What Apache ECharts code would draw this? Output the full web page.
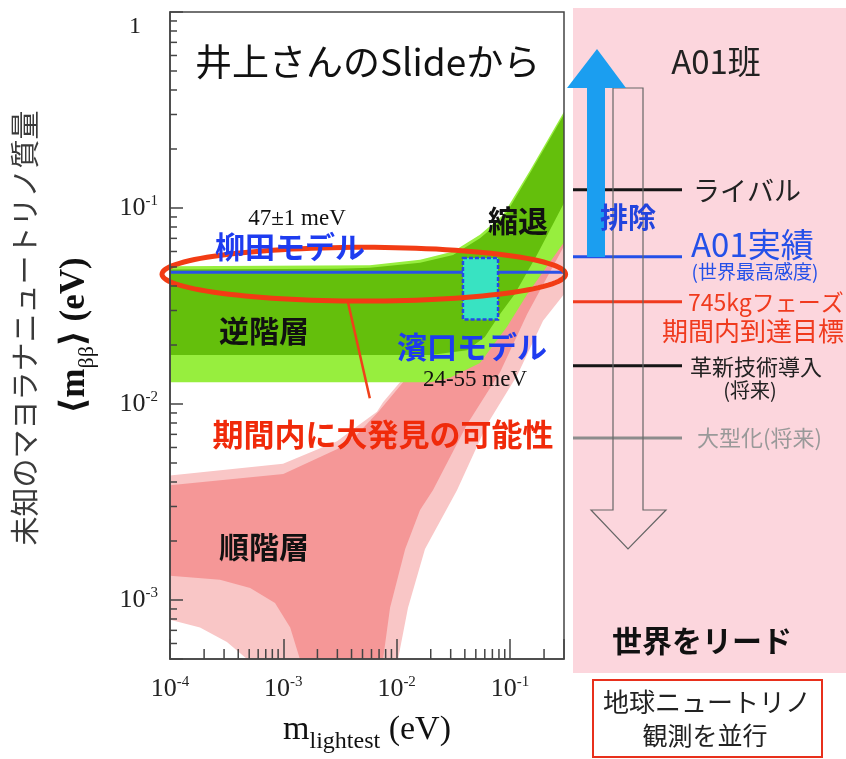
<!DOCTYPE html>
<html>
<head>
<meta charset="utf-8">
<script src="https://cdn.jsdelivr.net/npm/echarts@6/dist/echarts.min.js"></script>
<style>
  html, body { margin: 0; padding: 0; background: #fff; }
  #chart { width: 846px; height: 759px; }
</style>
</head>
<body>
<div id="chart"></div>
<script>
// axis ranges (eV)
const xRange = [1e-4, 0.3];
const yRange = [5e-4, 1];

// inverted hierarchy (green) band edges, [m_lightest, m_bb]
const ihOuterUpper = [[1e-4, 0.0505], [5.8e-3, 0.051], [0.0161, 0.0545], [0.0315, 0.060], [0.0544, 0.073], [0.0869, 0.092], [0.15, 0.155], [0.3, 0.31]];
const ihOuterLower = [[1e-4, 0.0129], [0.02, 0.0129], [0.0296, 0.0136], [0.0544, 0.0162], [0.0942, 0.0248], [0.142, 0.0363], [0.3, 0.0668]];
const ihInnerUpper = [[1e-4, 0.0485], [3e-3, 0.049], [5.8e-3, 0.0495], [0.0161, 0.0525], [0.0315, 0.0575], [0.0544, 0.070], [0.0869, 0.0881], [0.15, 0.15], [0.3, 0.30]];
const ihInnerLower = [[1e-4, 0.0178], [0.02, 0.0178], [0.0418, 0.0188], [0.06, 0.022], [0.0818, 0.0288], [0.11, 0.0363], [0.173, 0.0575], [0.3, 0.106]];

// normal hierarchy (pink) band edges
const nhOuterUpper = [[1e-4, 0.00432], [9.94e-4, 0.00495], [2.98e-3, 0.00646], [3.88e-3, 0.00724], [6.71e-3, 0.00912], [7.59e-3, 0.0102], [0.0107, 0.0129], [0.02, 0.021], [0.05, 0.048], [0.1, 0.09], [0.3, 0.27]];
const nhOuterLower = [[1e-4, 0.000794], [1.84e-4, 0.000724], [3.18e-4, 0.00061], [4.78e-4, 0.0005], [5.5e-4, 0.0004], [0.0105, 0.0004], [0.0103, 0.0005], [0.0126, 0.000912], [0.0178, 0.00182], [0.0341, 0.00363], [0.0628, 0.00785], [0.116, 0.014], [0.196, 0.0266], [0.3, 0.0363]];
const nhInnerUpper = [[1e-4, 0.00385], [1e-3, 0.0044], [3e-3, 0.0059], [4.5e-3, 0.0070], [7e-3, 0.0092], [0.0115, 0.013], [0.02, 0.02], [0.05, 0.045], [0.1, 0.085], [0.3, 0.25]];
const nhInnerLower = [[1e-4, 0.00133], [2.76e-4, 0.00127], [5.1e-4, 0.00115], [8.45e-4, 0.000966], [1.15e-3, 0.000724], [1.4e-3, 0.0005], [1.5e-3, 0.0004], [0.0072, 0.0004], [0.00759, 0.0005], [0.00875, 0.000912], [0.0119, 0.00182], [0.0161, 0.00288], [0.0209, 0.00363], [0.0418, 0.00785], [0.0818, 0.0145], [0.142, 0.0288], [0.3, 0.064]];

// model predictions
const yanagidaMass = 0.047;
const hamaguchiX = [0.0385, 0.0785];
const hamaguchiY = [0.027, 0.0556];

// highlight ellipse extent and pointer to caption
const ellipseX = [8.5e-5, 0.31];
const ellipseY = [0.0335, 0.063];
const pointerLine = [[3.7e-3, 0.0335], [5.8e-3, 0.0107]];

// A01 sensitivity levels (right panel)
const sensNames = ['ライバル', 'A01実績', '745kgフェーズ', '革新技術導入', '大型化(将来)'];
const sensLevels = [0.129, 0.0596, 0.0355, 0.0170, 0.0074];
const sensColors = ['#151515', '#2450e8', '#f03a1e', '#151515', '#8c8c8c'];

const serif = 'Liberation Serif, DejaVu Serif, serif';

// minor ticks 2..9 x 10^n
function minorTicks(range) {
  const out = [];
  for (let d = Math.floor(Math.log10(range[0])); d <= Math.ceil(Math.log10(range[1])); d++) {
    for (let m = 2; m <= 9; m++) {
      const v = m * Math.pow(10, d);
      if (v > range[0] && v < range[1]) out.push(v);
    }
  }
  return out;
}
const minorX = minorTicks(xRange);
const minorY = minorTicks(yRange);

function powLabel(v) {
  const l = Math.log10(v);
  const e = Math.round(l);
  if (Math.abs(l - e) > 1e-6) return '';
  if (e === 0) return '{one|1}';
  return '{b|10}{s|' + e + '}';
}
const labelRich = {
  b: { fontSize: 26, fontFamily: serif, color: '#222', lineHeight: 28 },
  s: { fontSize: 15, fontFamily: serif, color: '#222', verticalAlign: 'top', lineHeight: 28 },
  one: { fontSize: 24, fontFamily: serif, color: '#222', padding: [30, 17, 0, 0] }
};

function band(upper, lower, color, z) {
  return {
    type: 'custom', xAxisIndex: 0, yAxisIndex: 0, clip: true, silent: true, z: z,
    data: [[xRange[0], yRange[1]]],
    renderItem: function (params, api) {
      const pts = upper.concat(lower.slice().reverse()).map(function (p) { return api.coord(p); });
      return { type: 'polygon', shape: { points: pts }, style: { fill: color } };
    }
  };
}

function jpText(text, x, y, size, color, opts) {
  opts = opts || {};
  return {
    type: 'text', z: 60, x: x, y: y, rotation: opts.rotation || 0,
    style: {
      text: text, font: (opts.bold ? 'bold ' : '') + size + 'px "Noto Sans CJK JP"', fill: color,
      align: opts.align || 'center', verticalAlign: 'middle'
    }
  };
}

const chart = echarts.init(document.getElementById('chart'));

chart.setOption({
  animation: false,
  backgroundColor: '#fff',
  grid: [
    { left: 170, top: 12, width: 394, height: 660, show: false },
    { left: 573, top: 12, width: 109, height: 660, show: false }
  ],
  xAxis: [
    {
      type: 'log', gridIndex: 0, min: xRange[0], max: xRange[1], z: 10,
      axisLine: { lineStyle: { color: '#444', width: 1.5 } },
      axisTick: { inside: true, length: 20, lineStyle: { color: '#444', width: 1.5 } },
      axisLabel: { formatter: powLabel, rich: labelRich, margin: 16 },
      splitLine: { show: false },
      name: '{m|m}{sub|lightest}{m| (eV)}', nameLocation: 'middle', nameGap: 47,
      nameTextStyle: {
        rich: {
          m: { fontSize: 34, fontFamily: serif, color: '#111', lineHeight: 36 },
          sub: { fontSize: 24, fontFamily: serif, color: '#111', verticalAlign: 'bottom', lineHeight: 48 }
        }
      }
    },
    { type: 'value', gridIndex: 1, min: 0, max: 1, show: false }
  ],
  yAxis: [
    {
      type: 'log', gridIndex: 0, min: yRange[0], max: yRange[1], z: 10,
      axisLine: { lineStyle: { color: '#444', width: 1.5 } },
      axisTick: { inside: true, length: 13, lineStyle: { color: '#444', width: 1.5 } },
      axisLabel: { formatter: powLabel, rich: labelRich, margin: 12 },
      splitLine: { show: false },
      name: '{a|\u27e8m}{sub|\u03b2\u03b2}{a|\u27e9 (eV)}', nameLocation: 'middle', nameGap: 72,
      nameTextStyle: {
        rich: {
          a: { fontSize: 35, fontFamily: serif, fontWeight: 'bold', color: '#111', lineHeight: 38 },
          sub: { fontSize: 22, fontFamily: serif, color: '#111', verticalAlign: 'bottom', lineHeight: 46 }
        }
      }
    },
    { type: 'log', gridIndex: 1, min: yRange[0], max: yRange[1], show: false }
  ],
  series: [
    band(nhOuterUpper, nhOuterLower, '#f9c6c6', 2),
    band(nhInnerUpper, nhInnerLower, '#f59797', 3),
    band(ihOuterUpper, ihOuterLower, '#97ee3e', 4),
    band(ihInnerUpper, ihInnerLower, '#64bf0c', 5),
    {
      // Yanagida model line
      type: 'line', xAxisIndex: 0, yAxisIndex: 0, z: 6, symbol: 'none', silent: true,
      data: [[xRange[0], yanagidaMass], [xRange[1], yanagidaMass]],
      lineStyle: { color: '#2a52e8', width: 3 }
    },
    {
      // Hamaguchi model box
      type: 'custom', xAxisIndex: 0, yAxisIndex: 0, z: 7, clip: true, silent: true,
      data: [[hamaguchiX[0], hamaguchiY[1]]],
      renderItem: function (params, api) {
        const a = api.coord([hamaguchiX[0], hamaguchiY[1]]);
        const b = api.coord([hamaguchiX[1], hamaguchiY[0]]);
        return {
          type: 'rect', shape: { x: a[0], y: a[1], width: b[0] - a[0], height: b[1] - a[1] },
          style: { fill: '#38e3c2', stroke: '#2448e8', lineWidth: 2.5, lineDash: [4, 2] }
        };
      }
    },
    {
      // red highlight ellipse + pointer
      type: 'custom', xAxisIndex: 0, yAxisIndex: 0, z: 8, clip: false, silent: true,
      data: [[pointerLine[0][0], pointerLine[0][1]]],
      renderItem: function (params, api) {
        const a = api.coord([ellipseX[0], ellipseY[1]]);
        const b = api.coord([ellipseX[1], ellipseY[0]]);
        const cx = (a[0] + b[0]) / 2, cy = (a[1] + b[1]) / 2;
        const rx = (b[0] - a[0]) / 2, ry = (b[1] - a[1]) / 2;
        const pts = [];
        for (let i = 0; i < 120; i++) {
          const t = i / 120 * Math.PI * 2;
          pts.push([cx + rx * Math.cos(t), cy + ry * Math.sin(t)]);
        }
        const p0 = api.coord(pointerLine[0]);
        const p1 = api.coord(pointerLine[1]);
        return {
          type: 'group', children: [
            { type: 'line', shape: { x1: p0[0], y1: p0[1], x2: p1[0], y2: p1[1] }, style: { stroke: '#f0401a', lineWidth: 2.5 } },
            { type: 'polygon', shape: { points: pts }, style: { fill: 'none', stroke: '#f23c14', lineWidth: 5 } }
          ]
        };
      }
    },
    {
      // plot frame
      type: 'custom', xAxisIndex: 0, yAxisIndex: 0, z: 9, clip: false, silent: true,
      data: [[xRange[0], yRange[1]]],
      renderItem: function (params, api) {
        const a = api.coord([xRange[0], yRange[1]]);
        const b = api.coord([xRange[1], yRange[0]]);
        return {
          type: 'rect', shape: { x: a[0], y: a[1], width: b[0] - a[0], height: b[1] - a[1] },
          style: { fill: 'none', stroke: '#444', lineWidth: 1.5 }
        };
      }
    },
    {
      type: 'custom', xAxisIndex: 0, yAxisIndex: 0, z: 11, clip: false, silent: true,
      data: minorX.map(function (v) { return [v, yRange[0]]; }),
      renderItem: function (params, api) {
        const c = api.coord([api.value(0), api.value(1)]);
        return { type: 'line', shape: { x1: c[0], y1: c[1], x2: c[0], y2: c[1] - 10 }, style: { stroke: '#444', lineWidth: 1.5 } };
      }
    },
    {
      type: 'custom', xAxisIndex: 0, yAxisIndex: 0, z: 11, clip: false, silent: true,
      data: minorY.map(function (v) { return [xRange[0], v]; }),
      renderItem: function (params, api) {
        const c = api.coord([api.value(0), api.value(1)]);
        return { type: 'line', shape: { x1: c[0], y1: c[1], x2: c[0] + 7, y2: c[1] }, style: { stroke: '#444', lineWidth: 1.5 } };
      }
    },
    {
      // sensitivity levels
      type: 'custom', xAxisIndex: 1, yAxisIndex: 1, z: 5, clip: false, silent: true,
      data: sensLevels.map(function (v, i) { return [0, v, i]; }),
      renderItem: function (params, api) {
        const a = api.coord([0, api.value(1)]);
        const b = api.coord([1, api.value(1)]);
        return { type: 'line', shape: { x1: a[0], y1: a[1], x2: b[0], y2: b[1] }, style: { stroke: sensColors[params.dataIndex], lineWidth: 3 } };
      }
    }
  ],
  graphic: [
    { type: 'rect', z: 0, shape: { x: 573, y: 8, width: 273, height: 665 }, style: { fill: '#fcd6dd' } },
    // hollow down arrow
    { type: 'polygon', z: 40, shape: { points: [[613, 88], [643, 88], [643, 510], [666, 510], [628, 549], [591, 510], [613, 510]] },
      style: { fill: 'none', stroke: '#666', lineWidth: 1.2 } },
    // blue up arrow
    { type: 'polygon', z: 41, shape: { points: [[587, 257], [587, 88], [567, 88], [597, 49], [626, 88], [605, 88], [605, 257]] },
      style: { fill: '#1b9ef0' } },
    { type: 'rect', z: 40, shape: { x: 593, y: 680, width: 229, height: 77 }, style: { fill: '#fff', stroke: '#e8301c', lineWidth: 2 } },

    // plot annotations
    jpText('井上さんのSlideから', 195, 62, 37, '#111', { align: 'left' }),
    { type: 'text', z: 60, x: 297, y: 219, style: { text: '47±1 meV', font: '23px ' + serif, fill: '#111', align: 'center', verticalAlign: 'middle' } },
    jpText('柳田モデル', 290, 247, 30, '#1e3cf0', { bold: true }),
    jpText('縮退', 518, 221, 30, '#111', { bold: true }),
    jpText('逆階層', 264, 331, 30, '#111', { bold: true }),
    jpText('濱口モデル', 472, 347, 30, '#1e3cf0', { bold: true }),
    { type: 'text', z: 60, x: 475, y: 380, style: { text: '24-55 meV', font: '23px ' + serif, fill: '#111', align: 'center', verticalAlign: 'middle' } },
    jpText('期間内に大発見の可能性', 383, 434, 31, '#f02a0a', { bold: true }),
    jpText('順階層', 264, 547, 30, '#111', { bold: true }),
    jpText('未知のマヨラナニュートリノ質量', 25, 328, 29, '#3a3a3a', { rotation: Math.PI / 2 }),

    // right panel texts
    jpText('A01班', 716, 61, 33, '#222'),
    jpText('排除', 628, 217, 28, '#2244dd', { bold: true }),
    jpText(sensNames[0], 693, 191, 27, '#222', { align: 'left' }),
    jpText(sensNames[1], 691, 244, 33, '#2450e8', { align: 'left' }),
    jpText('(世界最高感度)', 755, 272, 19, '#2450e8'),
    jpText(sensNames[2], 688, 302, 23, '#f03a1e', { align: 'left' }),
    jpText('期間内到達目標', 753, 331, 26, '#f03a1e'),
    jpText(sensNames[3], 690, 367, 22, '#222', { align: 'left' }),
    jpText('(将来)', 750, 390, 20, '#222'),
    jpText(sensNames[4], 697, 438, 22, '#999', { align: 'left' }),
    jpText('世界をリード', 702, 641, 30, '#111', { bold: true }),
    jpText('地球ニュートリノ', 707, 702, 26, '#222'),
    jpText('観測を並行', 705, 735, 25, '#222')
  ]
});
</script>
</body>
</html>
